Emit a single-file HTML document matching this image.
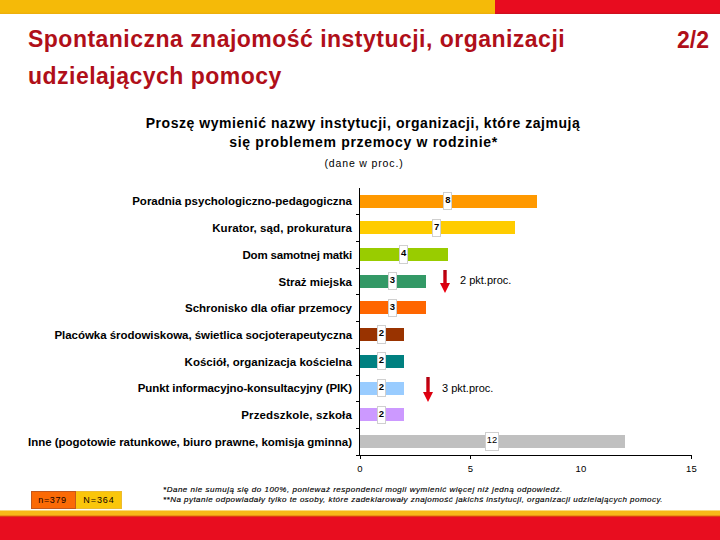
<!DOCTYPE html>
<html><head><meta charset="utf-8">
<style>
*{margin:0;padding:0;box-sizing:border-box}
html,body{width:720px;height:540px;overflow:hidden;background:#fff}
body{position:relative;font-family:"Liberation Sans",sans-serif;color:#000}
.a{position:absolute;white-space:nowrap}
#topy{left:0;top:0;width:495.5px;height:13.8px;background:linear-gradient(#F5BA08 0,#F5BA08 12px,#ECAE0C 13.8px)}
#topr{left:495px;top:0;width:225px;height:14px;background:linear-gradient(#E80C1F 0,#E80C1F 12px,#C8101E 14px)}
#boty{left:0;top:510px;width:720px;height:6.5px;background:linear-gradient(#FDF2C8 0,#F7B818 1.2px,#F7B818 5px,#DC4010 6.5px)}
#botr{left:0;top:516.5px;width:720px;height:23.5px;background:#E80D1F}
.t{font-weight:bold;font-size:23px;line-height:23px;color:#B00F19;letter-spacing:0.48px}
.ct{font-weight:bold;font-size:14px;letter-spacing:0.54px;text-align:center}
.lab{font-weight:bold;font-size:11.5px;right:368px;text-align:right}
.bar{position:absolute;height:13px}
.box{position:absolute;background:#fff;border:1px solid #cfcfcf;font-size:9.5px;font-weight:bold;text-align:center;height:18.4px;line-height:14px}
.xt{font-size:9.5px}
</style></head><body>
<div class="a" id="topy"></div><div class="a" id="topr"></div>
<div class="a t" style="left:28px;top:28.2px">Spontaniczna znajomość instytucji, organizacji</div>
<div class="a t" style="left:677px;top:29.2px;letter-spacing:0">2/2</div>
<div class="a t" style="left:28px;top:65px">udzielających pomocy</div>

<div class="a ct" style="left:0;width:726px;top:114.8px">Proszę wymienić nazwy instytucji, organizacji, które zajmują</div>
<div class="a ct" style="left:0;width:727px;top:133.6px;letter-spacing:0.67px">się problemem przemocy w rodzinie*</div>
<div class="a" style="left:0;width:728px;top:157.4px;font-size:10.5px;letter-spacing:0.85px;text-align:center">(dane w proc.)</div>

<!-- axes -->
<div class="a" style="left:359px;top:188px;width:1px;height:268px;background:#000"></div>
<div class="a" style="left:356px;top:455px;width:336px;height:1px;background:#000"></div>

<div id="chart"><div class="bar" style="left:360.0px;top:194.5px;width:176.7px;background:#FF9900"></div>
<div class="box" style="left:443.3px;top:191.8px;width:9px">8</div>
<div class="a lab" style="top:195.4px;letter-spacing:0.000px">Poradnia psychologiczno-pedagogiczna</div>
<div class="bar" style="left:360.0px;top:221.2px;width:154.6px;background:#FFCC00"></div>
<div class="box" style="left:432.2px;top:218.5px;width:9px">7</div>
<div class="a lab" style="top:222.1px;letter-spacing:0.070px">Kurator, sąd, prokuratura</div>
<div class="a" style="left:356px;top:214px;width:4px;height:1px;background:#000"></div>
<div class="bar" style="left:360.0px;top:247.9px;width:88.4px;background:#99CC00"></div>
<div class="box" style="left:399.1px;top:245.2px;width:9px">4</div>
<div class="a lab" style="top:248.8px;letter-spacing:-0.160px">Dom samotnej matki</div>
<div class="a" style="left:356px;top:241px;width:4px;height:1px;background:#000"></div>
<div class="bar" style="left:360.0px;top:274.7px;width:66.3px;background:#339966"></div>
<div class="box" style="left:388.0px;top:272.0px;width:9px">3</div>
<div class="a lab" style="top:275.5px;letter-spacing:0.000px">Straż miejska</div>
<div class="a" style="left:356px;top:268px;width:4px;height:1px;background:#000"></div>
<div class="bar" style="left:360.0px;top:301.4px;width:66.3px;background:#FF6600"></div>
<div class="box" style="left:388.0px;top:298.7px;width:9px">3</div>
<div class="a lab" style="top:302.2px;letter-spacing:-0.014px">Schronisko dla ofiar przemocy</div>
<div class="a" style="left:356px;top:294px;width:4px;height:1px;background:#000"></div>
<div class="bar" style="left:360.0px;top:328.1px;width:44.2px;background:#993300"></div>
<div class="box" style="left:377.0px;top:325.4px;width:9px">2</div>
<div class="a lab" style="top:329.0px;letter-spacing:-0.044px">Placówka środowiskowa, świetlica socjoterapeutyczna</div>
<div class="a" style="left:356px;top:321px;width:4px;height:1px;background:#000"></div>
<div class="bar" style="left:360.0px;top:354.8px;width:44.2px;background:#008080"></div>
<div class="box" style="left:377.0px;top:352.1px;width:9px">2</div>
<div class="a lab" style="top:355.7px;letter-spacing:0.020px">Kościół, organizacja kościelna</div>
<div class="a" style="left:356px;top:348px;width:4px;height:1px;background:#000"></div>
<div class="bar" style="left:360.0px;top:381.5px;width:44.2px;background:#99CCFF"></div>
<div class="box" style="left:377.0px;top:378.8px;width:9px">2</div>
<div class="a lab" style="top:382.4px;letter-spacing:-0.097px">Punkt informacyjno-konsultacyjny (PIK)</div>
<div class="a" style="left:356px;top:375px;width:4px;height:1px;background:#000"></div>
<div class="bar" style="left:360.0px;top:408.3px;width:44.2px;background:#CC99FF"></div>
<div class="box" style="left:377.0px;top:405.6px;width:9px">2</div>
<div class="a lab" style="top:409.1px;letter-spacing:0.144px">Przedszkole, szkoła</div>
<div class="a" style="left:356px;top:401px;width:4px;height:1px;background:#000"></div>
<div class="bar" style="left:360.0px;top:435.0px;width:265.1px;background:#C0C0C0"></div>
<div class="box" style="left:485.2px;top:432.3px;width:13.5px;font-weight:normal;font-size:9.3px">12</div>
<div class="a lab" style="top:435.8px;letter-spacing:-0.010px">Inne (pogotowie ratunkowe, biuro prawne, komisja gminna)</div>
<div class="a" style="left:356px;top:428px;width:4px;height:1px;background:#000"></div>
<div class="a" style="left:360px;top:455px;width:1px;height:4px;background:#000"></div>
<div class="a xt" style="left:340.0px;width:40px;text-align:center;top:463px">0</div>
<div class="a" style="left:470px;top:455px;width:1px;height:4px;background:#000"></div>
<div class="a xt" style="left:450.4px;width:40px;text-align:center;top:463px">5</div>
<div class="a xt" style="left:560.9px;width:40px;text-align:center;top:463px">10</div>
<div class="a" style="left:691px;top:455px;width:1px;height:4px;background:#000"></div>
<div class="a xt" style="left:671.4px;width:40px;text-align:center;top:463px">15</div>
<svg class="a" style="left:439px;top:270px" width="12" height="23" viewBox="0 0 12 23"><defs><linearGradient id="g270" x1="0" y1="0" x2="0" y2="1"><stop offset="0" stop-color="#B0000F"/><stop offset="1" stop-color="#F00010"/></linearGradient></defs><path d="M4.3 0H7.7V13H11L6 23L1 13H4.3Z" fill="url(#g270)"/></svg>
<div class="a" style="left:460px;top:273.5px;font-size:11px">2 pkt.proc.</div>
<svg class="a" style="left:422px;top:377px" width="12" height="25" viewBox="0 0 12 25"><defs><linearGradient id="g377" x1="0" y1="0" x2="0" y2="1"><stop offset="0" stop-color="#B0000F"/><stop offset="1" stop-color="#F00010"/></linearGradient></defs><path d="M4.3 0H7.7V15H11L6 25L1 15H4.3Z" fill="url(#g377)"/></svg>
<div class="a" style="left:442px;top:382px;font-size:11px">3 pkt.proc.</div></div><!--/chart-->

<div class="a" style="left:31px;top:491px;width:45px;height:17.5px;background:#FB6A06;border:1px solid #C4581C;font-size:9px;letter-spacing:0.6px;line-height:16.5px;text-align:center;color:#100000;text-indent:-2px">n=379</div>
<div class="a" style="left:76px;top:491px;width:46px;height:17.5px;background:#FAC60B;border:1px solid #EDBB30;border-left:none;font-size:9px;letter-spacing:0.95px;line-height:16.5px;text-indent:1px;text-align:center;color:#100000">N=364</div>

<div class="a" style="left:163px;top:485px;font-size:8px;letter-spacing:0.52px;font-style:italic;-webkit-text-stroke:0.15px #000">*Dane nie sumują się do 100%, ponieważ respondenci mogli wymienić więcej niż jedną odpowiedź.</div>
<div class="a" style="left:163px;top:495.3px;font-size:8px;letter-spacing:0.47px;font-style:italic;-webkit-text-stroke:0.15px #000">**Na pytanie odpowiadały tylko te osoby, które zadeklarowały znajomość jakichś instytucji, organizacji udzielających pomocy.</div>

<div class="a" id="boty"></div><div class="a" id="botr"></div>
</body></html>
